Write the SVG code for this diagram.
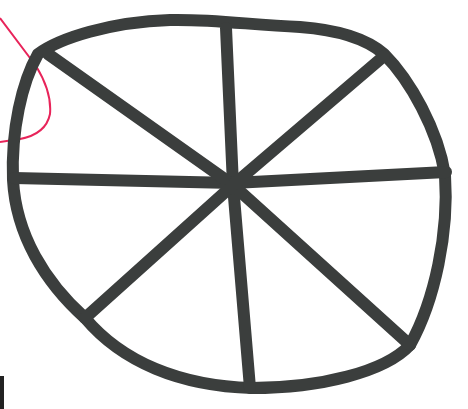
<svg xmlns="http://www.w3.org/2000/svg" width="468" height="409" viewBox="0 0 468 409">
<style>
.ink{fill:none;stroke:#3b3e3d;stroke-width:12;stroke-linecap:round;stroke-linejoin:round}
</style>
<rect width="468" height="409" fill="#ffffff"/>
<path d="M0,18 L36,66 Q52,92 50,114 Q46,134 20,139 L0,142" fill="none" stroke="#e8245a" stroke-width="2"/>
<g id="wheel">
<path class="ink" d="M38,54 C60,38 110,22 170,20 C215,19 250,25 300,27 C340,30 368,40 384,54 C410,80 438,130 445,175 C449,232 435,300 410,345 C385,372 320,388 252,388 C180,386 122,362 85,318 C45,282 16,235 13,180 C11,130 22,82 38,54 Z"/>
<path class="ink" d="M226,28 L233,185 L250,388"/>
<path class="ink" d="M14,178 L233,183 L446,172"/>
<path class="ink" d="M48,54 L233,185 L410,345"/>
<path class="ink" d="M384,56 L233,185 L85,318"/>
</g>
<path d="M2,376 L2,409" stroke="#222" stroke-width="4"/>
</svg>
